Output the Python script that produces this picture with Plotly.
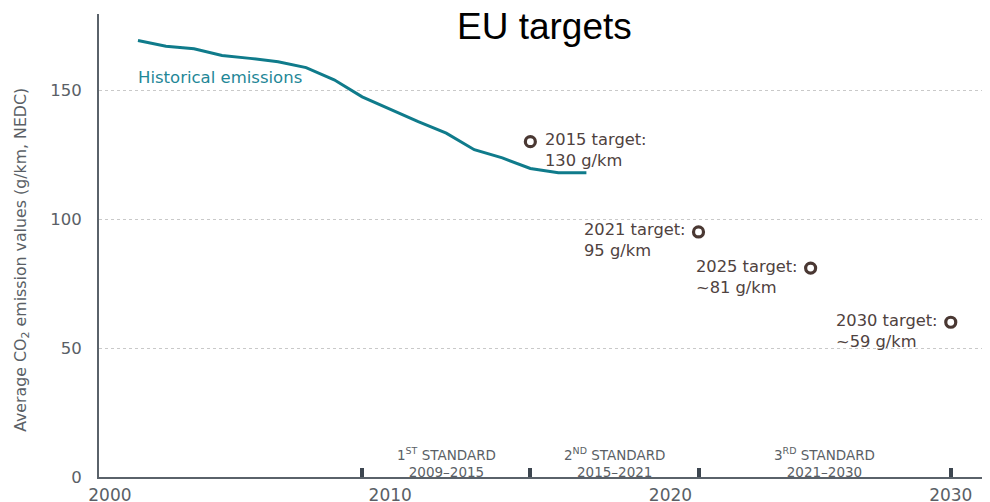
import plotly.graph_objects as go

# Historical emissions (g/km, NEDC)
hist_years = [2001, 2002, 2003, 2004, 2005, 2006, 2007, 2008, 2009, 2010, 2011, 2012, 2013, 2014, 2015, 2016, 2017]
hist_values = [169.2, 167.0, 166.0, 163.4, 162.3, 161.0, 158.7, 154.0, 147.4, 142.5, 137.8, 133.3, 126.9, 123.7, 119.6, 118.0, 118.0]

# Targets
target_years = [2015, 2021, 2025, 2030]
target_values = [130, 95, 81, 60]
target_line1 = ["2015 target:", "2021 target:", "2025 target:", "2030 target:"]
target_line2 = ["130 g/km", "95 g/km", "~81 g/km", "~59 g/km"]
target_sides = ["right", "left", "left", "left"]

# Standards
std_bounds = [2009, 2015, 2021, 2030]
std_line1 = ["1<sup>ST</sup> STANDARD", "2<sup>ND</sup> STANDARD", "3<sup>RD</sup> STANDARD"]
std_line2 = ["2009–2015", "2015–2021", "2021–2030"]

x_ticks = [2000, 2010, 2020, 2030]
y_ticks = [0, 50, 100, 150]

FONT = "'DejaVu Sans', Verdana, sans-serif"
TEAL = "#0f7b8b"
BROWN = "#4a3833"
TXT = "#4f4240"
GREY = "#5a5f66"

fig = go.Figure()
fig.add_trace(go.Scatter(x=hist_years, y=hist_values, mode="lines",
                         line=dict(color=TEAL, width=3), hoverinfo="skip", showlegend=False))
fig.add_trace(go.Scatter(x=target_years, y=target_values, mode="markers",
                         marker=dict(symbol="circle-open", size=10, color=BROWN, line=dict(width=3.2, color=BROWN)),
                         showlegend=False, hoverinfo="skip"))

tfont = dict(family=FONT, size=16.3, color=TXT)
for yr, val, l1, l2, side in zip(target_years, target_values, target_line1, target_line2, target_sides):
    xs = 13 if side == "right" else -117
    fig.add_annotation(x=yr, y=val, text=l1 + "<br>" + l2, showarrow=False, xanchor="left",
                       yanchor="middle", align="left", xshift=xs, yshift=-8.5, font=tfont)

sfont = dict(family=FONT, size=13.5, color=GREY)
for i in range(len(std_line1)):
    mid = (std_bounds[i] + std_bounds[i + 1]) / 2
    fig.add_annotation(x=mid, y=0, text=std_line1[i] + "<br>" + std_line2[i], showarrow=False,
                       xanchor="center", yanchor="middle", align="center", yshift=15, font=sfont)

fig.add_annotation(x=2000.94, y=155.0, text="Historical emissions", showarrow=False, xanchor="left",
                   yanchor="middle", font=dict(family=FONT, size=16.5, color="#1f8797"))

fig.add_annotation(xref="paper", yref="paper", x=0.5, y=0.972, text="EU targets", showarrow=False,
                   xanchor="center", yanchor="middle",
                   font=dict(family="'Liberation Sans', Arial, sans-serif", size=37, color="black"))

fig.add_annotation(xref="paper", yref="paper", x=-0.087, y=0.47, textangle=-90,
                   text="Average CO<sub>2</sub> emission values (g/km, NEDC)", showarrow=False,
                   xanchor="center", yanchor="middle", font=dict(family=FONT, size=15.8, color=GREY))

# page body has an 8px margin: shift the plot area so it lands where the reference has it
fig.update_layout(
    width=990, height=502,
    margin=dict(l=91, r=8, t=6, b=33, autoexpand=False),
    paper_bgcolor="white", plot_bgcolor="white",
    xaxis=dict(range=[1999.61, 2031.4], tickmode="array", tickvals=x_ticks, automargin=False,
               ticks="", showgrid=False, zeroline=False,
               showline=True, linecolor="#5a626a", linewidth=2,
               tickfont=dict(family=FONT, size=17, color=GREY), ticklabelstandoff=2,
               minor=dict(tickmode="array", tickvals=std_bounds, ticks="inside", ticklen=9,
                          tickwidth=4, tickcolor="#3d4650", showgrid=False)),
    yaxis=dict(range=[0, 179.5], tickmode="array", tickvals=y_ticks, ticks="", automargin=False,
               showgrid=True, gridcolor="#c9c9c9", griddash="dot", gridwidth=1,
               zeroline=False, showline=True, linecolor="#5a626a", linewidth=2,
               tickfont=dict(family=FONT, size=16.5, color=GREY), ticklabelstandoff=12),
)

fig.write_html("out.html")
